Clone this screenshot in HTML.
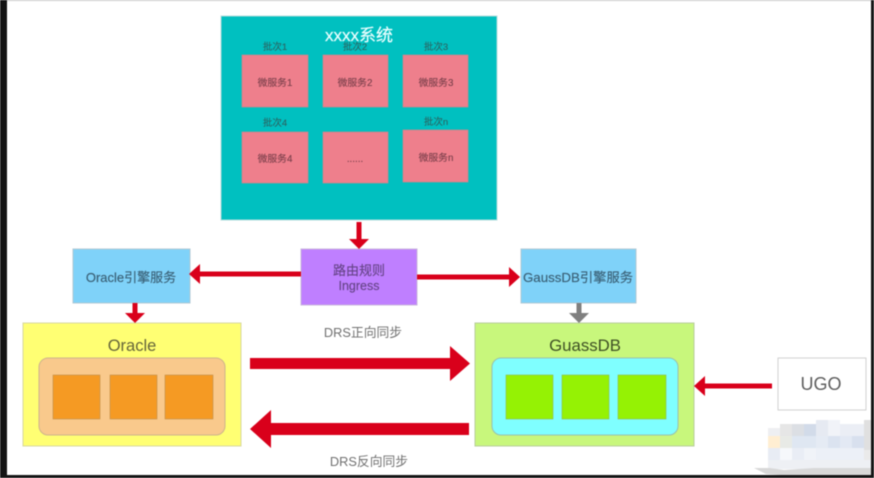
<!DOCTYPE html>
<html><head><meta charset="utf-8">
<style>
html,body{margin:0;padding:0;background:#fff;width:874px;height:478px;overflow:hidden}
svg{display:block;filter:blur(.65px)}
text{font-family:"Liberation Sans","Noto Sans CJK SC",sans-serif;text-anchor:middle}
</style></head><body>
<svg width="874" height="478" viewBox="0 0 874 478" xmlns="http://www.w3.org/2000/svg">
<rect width="874" height="478" fill="#fff"/>
<rect x="221" y="16" width="276" height="204" fill="#00c0c0" stroke="#b5dcdc"/>
<text x="359" y="41" font-size="17" fill="#eaffff" stroke="#eaffff" stroke-width=".2">xxxx系统</text>
<g fill="#ee7f8c" stroke="#c8868c" stroke-width=".7">
<rect x="242" y="55" width="66" height="52"/><rect x="323" y="55" width="65" height="52"/><rect x="403" y="55" width="65" height="52"/>
<rect x="242" y="132" width="66" height="51"/><rect x="323" y="132" width="65" height="51"/><rect x="403" y="130" width="65" height="52"/>
</g>
<g font-size="9.500" fill="#2a6664" stroke="#2a6664" stroke-width=".12">
<text x="275" y="50">批次1</text><text x="355" y="50">批次2</text><text x="436" y="50">批次3</text>
<text x="275" y="126">批次4</text><text x="436" y="125">批次n</text>
</g>
<g font-size="9.800" fill="#7c404c" stroke="#7c404c" stroke-width=".12">
<text x="275" y="86">微服务1</text><text x="355" y="86">微服务2</text><text x="436" y="86">微服务3</text>
<text x="275" y="162">微服务4</text><text x="355" y="162">......</text><text x="436" y="161">微服务n</text>
</g>
<rect x="73" y="249" width="117" height="54" fill="#7fd2f9" stroke="#b0c8d4"/>
<rect x="301" y="249" width="116" height="56" fill="#bf7fff" stroke="#c8b4dc"/>
<rect x="521" y="249" width="115" height="54" fill="#7fd2f9" stroke="#b0c8d4"/>
<g stroke-width=".15">
<text x="131" y="282" font-size="13" fill="#3a6076" stroke="#3a6076">Oracle引擎服务</text>
<text x="359" y="275" font-size="13" fill="#664488" stroke="#664488">路由规则</text>
<text x="359" y="290" font-size="12.500" fill="#664488" stroke="#664488">Ingress</text>
<text x="578" y="282" font-size="13.300" fill="#3a6076" stroke="#3a6076">GaussDB引擎服务</text>
</g>
<rect x="23" y="323" width="218" height="123" fill="#ffff73" stroke="#d8d8a0"/>
<rect x="39" y="358" width="186" height="77" rx="9" fill="#f9c98c" stroke="#cdb48c"/>
<g fill="#f59a23" stroke="#c09050" stroke-width=".6">
<rect x="53" y="375" width="47" height="44"/><rect x="110" y="375" width="47" height="44"/><rect x="165" y="375" width="48" height="44"/>
</g>
<text x="132" y="351" font-size="16.500" fill="#66663a">Oracle</text>
<rect x="475" y="323" width="219" height="123" fill="#c8f77c" stroke="#b8cc9c"/>
<rect x="492" y="358" width="186" height="77" rx="9" fill="#7fffff" stroke="#98c0b0"/>
<g fill="#95f204" stroke="#90b850" stroke-width=".6">
<rect x="506" y="375" width="47" height="44"/><rect x="562" y="375" width="47" height="44"/><rect x="618" y="375" width="48" height="44"/>
</g>
<text x="585" y="351" font-size="16.800" fill="#3e5024">GuassDB</text>
<rect x="778" y="358" width="88" height="52" fill="#fff" stroke="#d0d0d0"/>
<text x="821" y="390" font-size="18" fill="#5e5e5e">UGO</text>
<text x="363" y="337" font-size="12.800" fill="#707070">DRS正向同步</text>
<text x="369" y="466" font-size="12.800" fill="#707070">DRS反向同步</text>
<g fill="#d9001b">
<path d="M356.500 222h5v17h7.500l-10 10-10-10h7.500z"/>
<path d="M301 271.500v5H200v7.500l-11-10 11-10v7.500z"/>
<path d="M132.500 303h5v10h7.500l-10 10-10-10h7.500z"/>
<path d="M417 274.500h92V267l11 10-11 10v-7.500h-92z"/>
<path d="M250 358h200v-12l20 17.500-20 17.500v-12H250z"/>
<path d="M469 423H271v-13l-21 19 21 19v-13h198z"/>
<path d="M772 383.500v5h-67v7.500l-11-10 11-10v7.500z"/>
</g>
<path d="M576.500 303h5v10h7.500l-10 10-10-10h7.500z" fill="#7f7f7f"/>
<g>
<rect x="768" y="428" width="12" height="8" fill="#eeeff2"/><rect x="780" y="424" width="12" height="12" fill="#e6e6e6"/>
<rect x="792" y="424" width="12" height="12" fill="#dcdfe4"/><rect x="804" y="424" width="12" height="12" fill="#d2dbe9"/>
<rect x="816" y="420" width="12" height="16" fill="#e6eaf2"/><rect x="828" y="420" width="12" height="16" fill="#f1f3f8"/>
<rect x="840" y="424" width="24" height="12" fill="#ebeef5"/><rect x="864" y="420" width="7" height="30" fill="#e0e0e0"/>
<rect x="768" y="436" width="12" height="12" fill="#ffeed2"/><rect x="780" y="436" width="12" height="12" fill="#e8eae6"/>
<rect x="792" y="436" width="24" height="12" fill="#dfe7f2"/><rect x="816" y="436" width="12" height="12" fill="#e5ebf4"/>
<rect x="828" y="436" width="12" height="12" fill="#dbe3f0"/><rect x="840" y="436" width="12" height="12" fill="#e3e9f4"/><rect x="852" y="436" width="12" height="12" fill="#d8e0ee"/>
<rect x="768" y="448" width="12" height="12" fill="#e8ecf4"/><rect x="780" y="448" width="12" height="12" fill="#f6f8fb"/>
<rect x="792" y="448" width="12" height="12" fill="#e9edf5"/><rect x="804" y="448" width="12" height="12" fill="#f0f3f8"/>
<rect x="816" y="448" width="48" height="12" fill="#ecf0f7"/><rect x="864" y="450" width="7" height="10" fill="#eaeaea"/>
<rect x="768" y="460" width="103" height="9" fill="#eef0f4"/>
<path d="M754 468l16 0 14 2 30-2 57 0v7H780l-14-1z" fill="#d8d8d8"/>
</g>
<rect x="0" y="0" width="874" height="1" fill="#c8c8c8"/>
<rect x="0" y="0" width="7" height="478" fill="#141414"/>
<rect x="871" y="0" width="3" height="478" fill="#141414"/>
<rect x="0" y="475" width="874" height="3" fill="#141414"/>
</svg>
</body></html>
